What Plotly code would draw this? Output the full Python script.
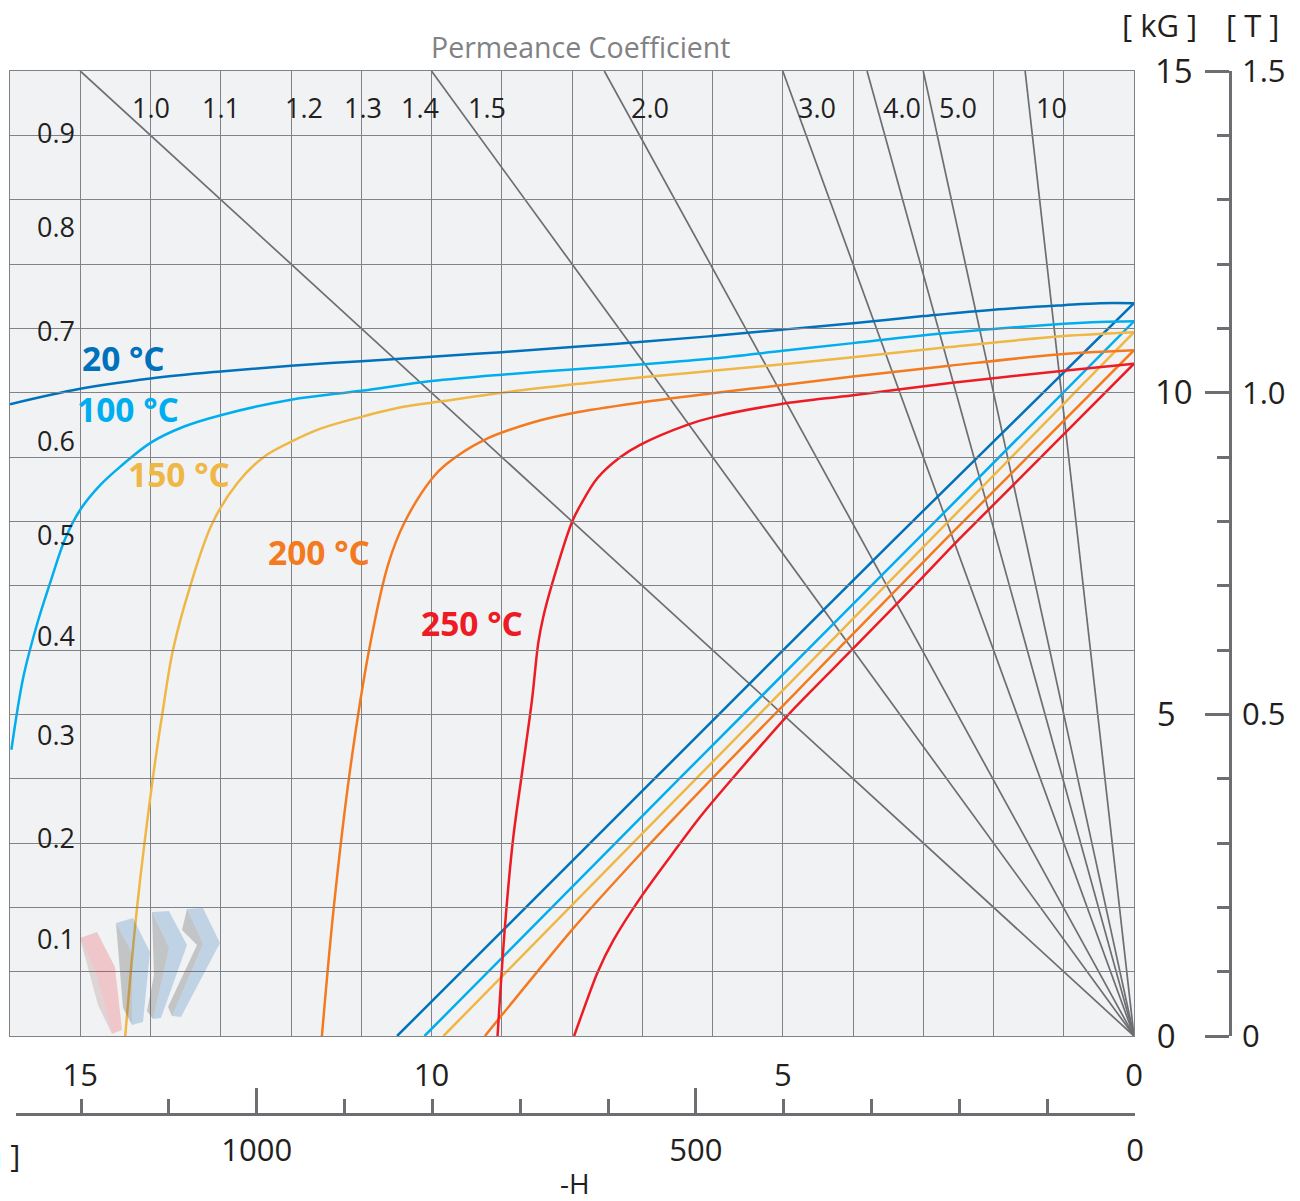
import plotly.graph_objects as go

W, H_PX = 1300, 1201

# ---- data (kOe, kG) ----
temps = ["20 °C", "100 °C", "150 °C", "200 °C", "250 °C"]
colors = ["#0072bc", "#00aeef", "#efb745", "#f47a20", "#ed1c24"]

h20 = [16, 15, 14, 13, 12, 11, 10, 9, 8, 7, 6, 5, 4, 3, 2, 1, 0.48, 0]
b20 = [9.82, 10.06, 10.22, 10.33, 10.42, 10.49, 10.56, 10.63, 10.71, 10.79, 10.88, 10.98, 11.08, 11.19, 11.29, 11.36, 11.39, 11.39]
h100 = [15.98, 15.81, 15.61, 15.43, 15.21, 15.0, 14.71, 14.43, 14.0, 13.53, 13.0, 12.0, 11.0, 10, 9, 8, 7, 6, 5, 4, 2.62, 1, 0.48, 0]
b100 = [4.45, 5.58, 6.42, 7.04, 7.74, 8.18, 8.57, 8.85, 9.22, 9.47, 9.65, 9.89, 10.03, 10.18, 10.28, 10.36, 10.44, 10.53, 10.65, 10.77, 10.93, 11.07, 11.10, 11.11]
h150 = [14.36, 14.19, 13.97, 13.83, 13.68, 13.43, 13.12, 12.76, 12.40, 12.01, 11.58, 11.01, 10.40, 9.83, 8.99, 7.88, 7.0, 6, 5, 4, 2.62, 1, 0]
b150 = [0, 2.01, 3.98, 5.02, 6.0, 7.01, 7.97, 8.60, 8.99, 9.23, 9.44, 9.62, 9.78, 9.87, 10.0, 10.14, 10.24, 10.34, 10.44, 10.55, 10.71, 10.88, 10.94]
h200 = [11.56, 11.39, 11.16, 10.88, 10.62, 10.39, 9.99, 9.80, 9.26, 8.55, 8.0, 7, 6, 5, 4, 2.62, 1, 0]
b200 = [0, 2.01, 4.13, 6.05, 7.32, 7.97, 8.67, 8.88, 9.26, 9.54, 9.68, 9.85, 9.99, 10.12, 10.25, 10.42, 10.60, 10.66]
h250 = [9.06, 8.95, 8.84, 8.71, 8.57, 8.48, 8.41, 8.28, 8.0, 7.88, 7.64, 7.31, 7.03, 6.36, 5.99, 5.04, 4.0, 2.62, 1, 0]
b250 = [0, 1.76, 3.05, 4.1, 5.22, 6.11, 6.51, 7.04, 7.99, 8.25, 8.67, 9.0, 9.19, 9.5, 9.62, 9.82, 9.96, 10.15, 10.34, 10.45]

rh20 = [10.49, 6.86, 3.44, 0]
rb20 = [0, 3.96, 7.69, 11.39]
rh100 = [10.10, 6.49, 3.09, 0]
rb100 = [0, 3.98, 7.71, 11.11]
rh150 = [9.83, 6.25, 2.90, 0]
rb150 = [0, 3.98, 7.71, 10.94]
rh200 = [9.24, 8, 7, 6, 2.69, 0]
rb200 = [0, 1.65, 2.86, 4.01, 7.71, 10.66]
rh250 = [7.97, 7.64, 7.41, 7, 6.18, 5.71, 4.90, 4, 3, 2.5, 0]
rb250 = [0, 0.98, 1.49, 2.19, 3.40, 4.01, 5.02, 6.02, 7.14, 7.71, 10.45]

# permeance lines: H where each line reaches B = 15 kG
perm_top_h = [15, 10, 7.54, 5, 3.8, 3, 1.55]
B_TOP = 15

perm_labels = ["1.0", "1.1", "1.2", "1.3", "1.4", "1.5", "2.0", "3.0", "4.0", "5.0", "10"]
perm_label_h = [14.0, 13.0, 11.81, 10.97, 10.17, 9.21, 6.89, 4.51, 3.30, 2.50, 1.17]
perm_label_b = 14.44

pc_labels = ["0.9", "0.8", "0.7", "0.6", "0.5", "0.4", "0.3", "0.2", "0.1"]
pc_label_b = [14.05, 12.59, 10.96, 9.26, 7.80, 6.23, 4.69, 3.08, 1.51]
pc_label_h = 15.34

temp_label_h = [14.39, 14.32, 13.59, 11.6, 9.42]
temp_label_b = [10.54, 9.75, 8.74, 7.52, 6.42]

koe_ticks = [15, 10, 5, 0]
kam_range_left = 1274
kg_ticks = [15, 10, 5, 0]
kg_text = ["15", "10", "5\u00a0\u00a0", "0\u00a0\u00a0"]
tesla_ticks = [1.5, 1.0, 0.5, 0]
tesla_text = ["1.5", "1.0", "0.5", "0"]

# ---- styling / layout helpers ----
FONT = "Open Sans"
TXT = "#231f20"
GRID = "#808285"
LINE = "#6d6e71"
BG = "#f1f2f4"


def px(x):
    return x / W


def py(y):
    return 1 - y / H_PX


X0, X1, Y0, Y1 = 10, 1134, 71, 1036

fig = go.Figure()

# invisible traces so the extra axes exist
fig.add_trace(go.Scatter(x=[0], y=[0], xaxis="x2", yaxis="y", mode="none", hoverinfo="skip"))
fig.add_trace(go.Scatter(x=[0], y=[0], xaxis="x", yaxis="y2", mode="none", hoverinfo="skip"))
fig.add_trace(go.Scatter(x=[0], y=[0], xaxis="x", yaxis="y3", mode="none", hoverinfo="skip"))

for h in perm_top_h:
    fig.add_trace(go.Scatter(x=[0, h], y=[0, B_TOP], mode="lines", line=dict(color=LINE, width=1.7), hoverinfo="skip"))

series = [(h20, b20, rh20, rb20), (h100, b100, rh100, rb100), (h150, b150, rh150, rb150),
          (h200, b200, rh200, rb200), (h250, b250, rh250, rb250)]
for (hd, bd, hr, br), c, name in zip(series, colors, temps):
    fig.add_trace(go.Scatter(x=hd, y=bd, mode="lines", name=name,
                             line=dict(color=c, width=2.5, shape="spline", smoothing=1.0)))
    fig.add_trace(go.Scatter(x=hr, y=br, mode="lines", name=name,
                             line=dict(color=c, width=2.5, shape="spline", smoothing=0.6)))

ann = []
for t, h in zip(perm_labels, perm_label_h):
    ann.append(dict(x=h, y=perm_label_b, text=t, showarrow=False, font=dict(size=27, color=TXT, family=FONT)))
for t, b in zip(pc_labels, pc_label_b):
    ann.append(dict(x=pc_label_h, y=b, text=t, showarrow=False, font=dict(size=27, color=TXT, family=FONT)))
for t, h, b, c in zip(temps, temp_label_h, temp_label_b, colors):
    ann.append(dict(x=h, y=b, text=t, showarrow=False, font=dict(size=33.5, color=c, family=FONT, weight="bold")))


def page_text(text, x, y, size, color=TXT, anchor="center"):
    return dict(x=px(x), y=py(y), xref="paper", yref="paper", text=text, showarrow=False, xanchor=anchor,
                yanchor="middle", font=dict(size=size, color=color, family=FONT))


ann.append(page_text("Permeance Coefficient", 581, 47, 28.5, "#808285"))
ann.append(page_text("[ kG ]", 1159, 25, 31))
ann.append(page_text("[ T ]", 1252, 25, 31))
ann.append(page_text("-H", 575, 1183, 28))
ann.append(page_text("[ kA/m ]", 22, 1155, 31, anchor="right"))

shapes = [dict(type="rect", xref="paper", yref="paper", x0=px(X0), x1=px(X1), y0=py(Y1), y1=py(Y0),
               fillcolor=BG, line_width=0, layer="below")]


def poly(points, fill):
    path = "M" + " L".join(f"{px(a):.5f},{py(b):.5f}" for a, b in points) + " Z"
    return dict(type="path", xref="paper", yref="paper", path=path, fillcolor=fill, line_width=0, layer="above")


PINK = "rgba(237,28,36,0.2)"
BLUE = "rgba(0,90,170,0.2)"
GREY = "rgba(90,90,90,0.3)"
shapes += [
    poly([(80, 938), (97, 932), (115, 967), (122, 1030), (112, 1034), (97, 975)], PINK),
    poly([(80, 938), (97, 975), (112, 1034), (98, 1005)], "rgba(150,90,90,0.2)"),
    poly([(116, 923), (133, 918), (150, 952), (143, 1022), (132, 1025), (132, 953)], BLUE),
    poly([(116, 923), (132, 953), (132, 1025), (123, 1008)], GREY),
    poly([(152, 912), (169, 911), (187, 945), (161, 1018), (153, 1019), (169, 948)], BLUE),
    poly([(152, 912), (169, 948), (153, 1019), (147, 1011), (154, 975)], GREY),
    poly([(187, 909), (203, 908), (220, 943), (181, 1017), (172, 1016), (203, 944)], BLUE),
    poly([(187, 909), (203, 944), (172, 1016), (168, 1007), (197, 945), (182, 930)], GREY),
]

fig.update_layout(
    template="none",
    width=W, height=H_PX, autosize=False,
    margin=dict(l=0, r=0, t=0, b=0, autoexpand=False),
    paper_bgcolor="white", plot_bgcolor="rgba(0,0,0,0)",
    showlegend=False, annotations=ann, shapes=shapes,
    font=dict(family=FONT, color=TXT),
    xaxis=dict(domain=[px(X0), px(X1)], range=[16, 0], tickvals=koe_ticks, automargin=False,
               showgrid=True, gridcolor=GRID, gridwidth=1.3,
               minor=dict(dtick=1, showgrid=True, gridcolor=GRID, gridwidth=1.3, ticks=""),
               ticks="", zeroline=False, showline=True, mirror=True, linecolor=GRID, linewidth=1.3,
               tickfont=dict(size=31, family=FONT, color=TXT), ticklabelstandoff=12, anchor="y"),
    yaxis=dict(domain=[py(Y1), py(Y0)], range=[0, 15], dtick=1, automargin=False,
               showgrid=True, gridcolor=GRID, gridwidth=1.3,
               ticks="", zeroline=False, showline=True, mirror=True, linecolor=GRID, linewidth=1.3,
               showticklabels=False, anchor="x"),
    xaxis2=dict(domain=[px(16), px(1135)], range=[kam_range_left, 0], anchor="free", position=py(1114),
                side="bottom", dtick=500, ticks="inside", ticklen=25, tickwidth=2.5, tickcolor=LINE, automargin=False,
                minor=dict(dtick=100, ticks="inside", ticklen=14, tickwidth=2.5, tickcolor=LINE, showgrid=False),
                showgrid=False, zeroline=False, showline=True, linecolor=LINE, linewidth=2.5,
                tickfont=dict(size=31, family=FONT, color=TXT), ticklabelstandoff=8),
    yaxis2=dict(overlaying="y", range=[0, 15], anchor="free", position=px(1230), side="left", automargin=False,
                tickvals=kg_ticks, ticktext=kg_text, ticks="outside", ticklen=24, tickwidth=2.5, tickcolor=LINE,
                minor=dict(dtick=1, ticks="outside", ticklen=12, tickwidth=2.5, tickcolor=LINE, showgrid=False),
                showgrid=False, zeroline=False, showline=True, linecolor=LINE, linewidth=2.5,
                tickfont=dict(size=33, family=FONT, color=TXT), ticklabelstandoff=6),
    yaxis3=dict(overlaying="y", range=[0, 1.5], anchor="free", position=px(1230), side="right", automargin=False,
                tickvals=tesla_ticks, ticktext=tesla_text, ticks="", showgrid=False, zeroline=False, showline=False,
                tickfont=dict(size=31, family=FONT, color=TXT), ticklabelstandoff=11),
)

fig.write_html("out.html", config={"displayModeBar": False},
               post_script="document.body.style.margin='0';document.body.style.overflow='hidden';")
